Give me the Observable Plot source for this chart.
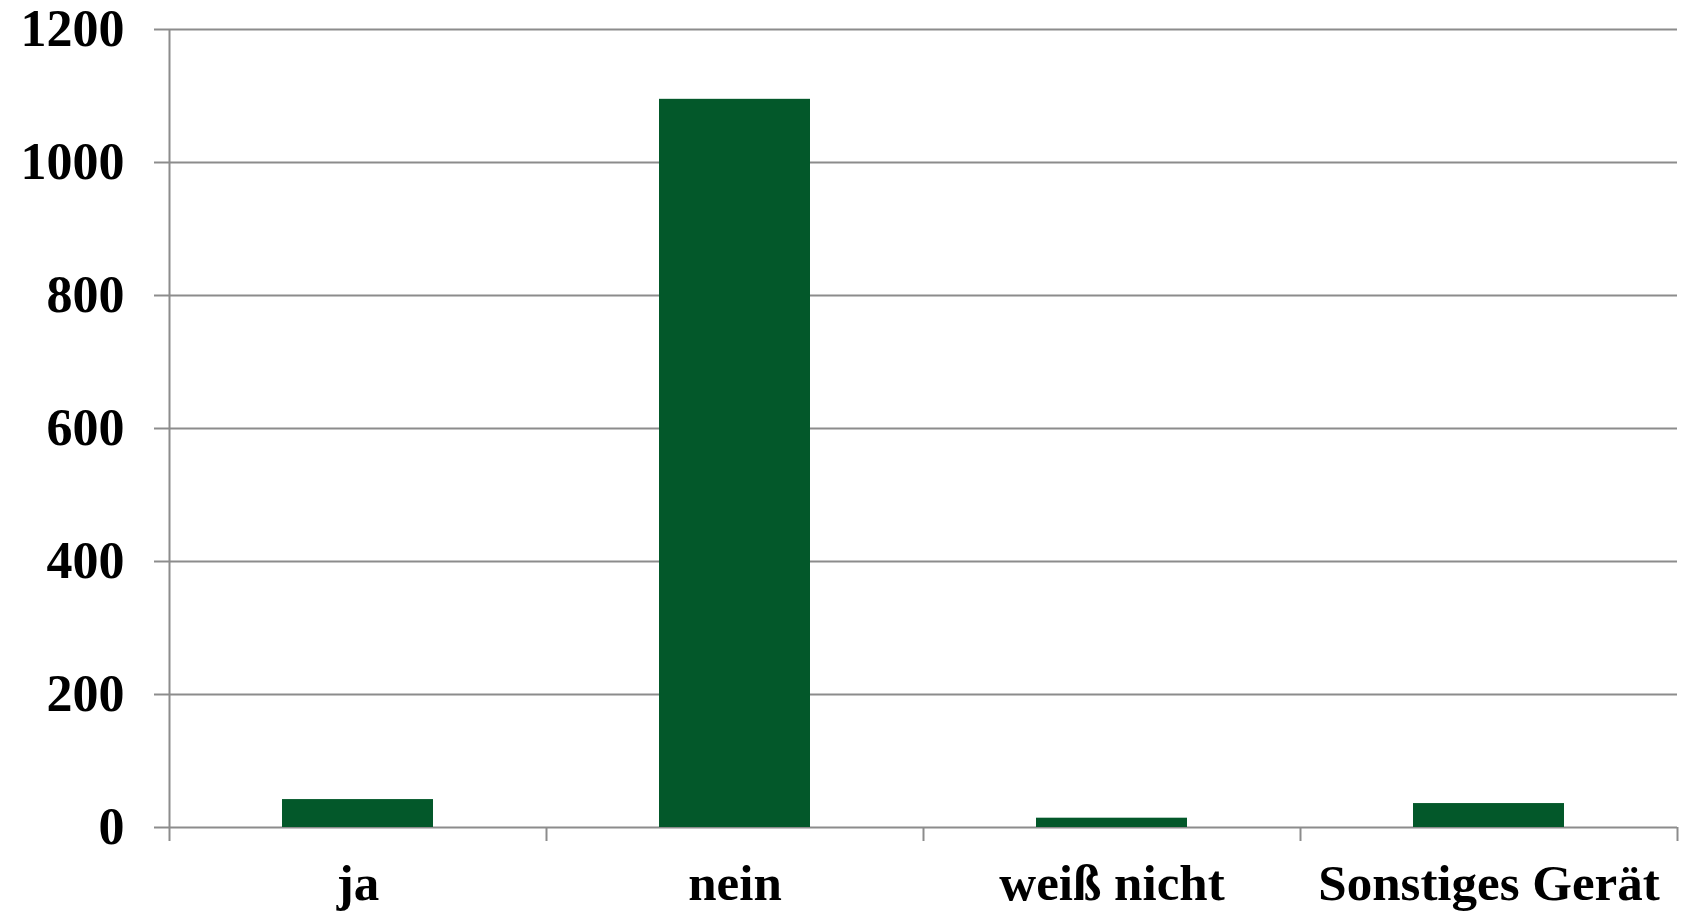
<!DOCTYPE html>
<html>
<head>
<meta charset="utf-8">
<script src="https://cdn.jsdelivr.net/npm/d3@7"></script>
<script src="https://cdn.jsdelivr.net/npm/@observablehq/plot@0.6"></script>
<style>
  html, body { margin: 0; padding: 0; background: white; }
</style>
</head>
<body>
<div id="chart"></div>
<script>
const categories = ["ja", "nein", "weiß nicht", "Sonstiges Gerät"];
const values = [42, 1095, 14, 36];
const yTicks = [0, 200, 400, 600, 800, 1000, 1200];

const data = categories.map((c, i) => ({cat: c, value: values[i]}));

const W = 1682, H = 912;
const mL = 169, mR = 5, mT = 29, mB = 85;
const step = (W - mL - mR) / categories.length;
const gray = "#8c8c8c";

const chart = Plot.plot({
  width: W, height: H,
  marginLeft: mL, marginRight: mR, marginTop: mT, marginBottom: mB,
  x: {domain: categories, paddingInner: 0.6, paddingOuter: 0.3, label: null},
  y: {domain: [0, 1200], label: null},
  style: {fontFamily: "'Liberation Serif', serif", fontWeight: "bold", fontSize: "51px", color: "black", background: "white"},
  marks: [
    Plot.gridY(yTicks, {stroke: gray, strokeOpacity: 1, strokeWidth: 2}),
    Plot.axisY(yTicks, {tickSize: 15, tickPadding: 30, stroke: gray, strokeWidth: 2, fontSize: 52, tickFormat: d => String(d), label: null}),
    Plot.barY(data, {x: "cat", y: "value", fill: "#03582a"}),
    Plot.ruleX([categories[0]], {x: d => d, dx: -step / 2, y1: 0, y2: 1200, stroke: gray, strokeWidth: 2}),
    Plot.axisX(categories, {tickSize: 14, dx: -step / 2, tickFormat: () => "", stroke: gray, strokeWidth: 2, label: null}),
    Plot.axisX([categories[categories.length - 1]], {tickSize: 14, dx: step / 2, tickFormat: () => "", stroke: gray, strokeWidth: 2, label: null}),
    Plot.axisX(categories, {tickSize: 0, tickPadding: 36, fontSize: 51, label: null})
  ]
});
document.getElementById("chart").appendChild(chart);
</script>
</body>
</html>
